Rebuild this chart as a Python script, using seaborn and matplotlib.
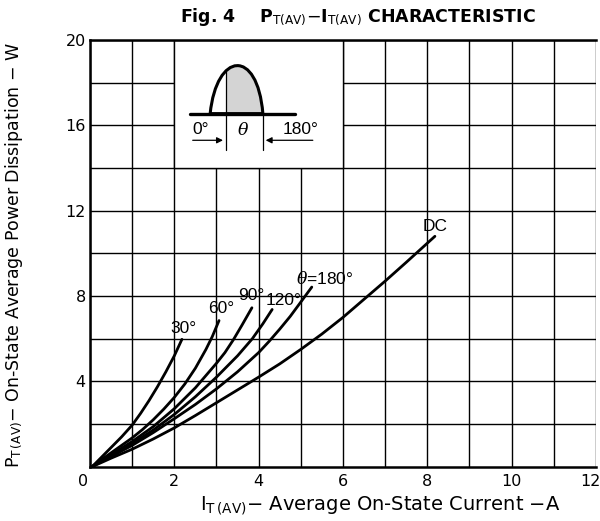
import numpy as np
import pandas as pd
import matplotlib
matplotlib.use("Agg")
import matplotlib.pyplot as plt
from matplotlib.patches import Rectangle, PathPatch
from matplotlib.path import Path
from matplotlib.transforms import ScaledTranslation
import seaborn as sns

# Curves (I_T(AV) in A, P_T(AV) in W)
curve_names = ["30°", "60°", "90°", "120°", "θ=180°", "DC"]

i_30 = [0.05, 0.25, 0.5, 0.75, 1.0, 1.2, 1.4, 1.6, 1.8, 2.0, 2.18]
p_30 = [0.0, 0.4, 0.9, 1.4, 1.95, 2.5, 3.1, 3.75, 4.45, 5.2, 5.97]

i_60 = [0.05, 0.25, 0.5, 0.75, 1.0, 1.25, 1.5, 1.75, 2.0, 2.25, 2.5, 2.75, 2.9, 3.06]
p_60 = [0.0, 0.3, 0.65, 1.0, 1.35, 1.75, 2.2, 2.7, 3.25, 3.88, 4.62, 5.5, 6.1, 6.85]

i_90 = [0.05, 0.25, 0.5, 0.75, 1.0, 1.5, 2.0, 2.5, 3.0, 3.2, 3.4, 3.6, 3.84]
p_90 = [0.0, 0.27, 0.57, 0.87, 1.18, 1.88, 2.72, 3.7, 4.85, 5.35, 5.95, 6.62, 7.45]

i_120 = [0.05, 0.25, 0.5, 1.0, 1.5, 2.0, 2.5, 3.0, 3.5, 3.85, 4.1, 4.32]
p_120 = [0.0, 0.25, 0.52, 1.08, 1.72, 2.45, 3.28, 4.2, 5.2, 6.0, 6.7, 7.37]

i_180 = [0.05, 0.25, 0.5, 1.0, 1.5, 2.0, 2.5, 3.0, 3.5, 4.0, 4.25, 4.5, 4.75, 5.0, 5.26]
p_180 = [0.0, 0.23, 0.48, 1.0, 1.6, 2.25, 2.92, 3.65, 4.45, 5.35, 5.88, 6.45, 7.05, 7.72, 8.42]

i_dc = [0.05, 0.5, 1.0, 1.5, 2.0, 2.5, 3.0, 3.5, 4.0, 4.5, 5.0, 5.5, 6.0, 6.5, 7.0, 7.5, 8.18]
p_dc = [0.0, 0.4, 0.82, 1.3, 1.82, 2.4, 3.0, 3.6, 4.2, 4.82, 5.5, 6.22, 7.0, 7.85, 8.7, 9.58, 10.8]

# label anchor for each curve (centre of the text)
label_x = [2.21, 3.12, 3.83, 4.58, 5.57, 8.18]
label_y = [6.48, 7.42, 8.04, 7.78, 8.82, 11.24]

xticks = [0, 2, 4, 6, 8, 10, 12]
yticks = [4, 8, 12, 16, 20]

frames = []
for name, xs, ys in zip(curve_names,
                        [i_30, i_60, i_90, i_120, i_180, i_dc],
                        [p_30, p_60, p_90, p_120, p_180, p_dc]):
    frames.append(pd.DataFrame({"I": xs, "P": ys, "curve": name}))
df = pd.concat(frames, ignore_index=True)

sns.set_theme(style="white")
plt.rcParams["font.family"] = ["DejaVu Sans"]
plt.rcParams["text.color"] = "black"
plt.rcParams["axes.labelcolor"] = "black"
plt.rcParams["mathtext.fontset"] = "custom"
plt.rcParams["mathtext.rm"] = "DejaVu Sans"
plt.rcParams["mathtext.it"] = "DejaVu Serif:italic"
plt.rcParams["mathtext.bf"] = "DejaVu Sans:bold"

fig = plt.figure(figsize=(6.0, 5.21), dpi=100)
ax = fig.add_axes([0.15, 0.1042, 0.8433, 0.819])

sns.lineplot(data=df, x="I", y="P", hue="curve", palette=["black"] * 6,
             sort=False, estimator=None, legend=False, linewidth=2.0, ax=ax)

lab_font = ["Liberation Sans", "DejaVu Sans"]
for name, lx, ly in zip(curve_names, label_x, label_y):
    txt = name.replace("θ", r"$\theta$")
    ax.text(lx, ly, txt, ha="center", va="center", fontsize=12.5,
            color="black", family=lab_font)

ax.set_xlim(0, 12)
ax.set_ylim(0, 20)
ax.set_xticks(xticks)
ax.set_xticks(range(1, 12, 2), minor=True)
ax.set_yticks(yticks)
ax.set_yticks([2, 6, 10, 14, 18], minor=True)
ax.tick_params(axis="both", which="both", length=0, labelsize=11.5, colors="black")
ax.tick_params(axis="x", pad=5)
ax.tick_params(axis="y", pad=3)
ax.grid(True, which="both", color="black", linewidth=1.0)
ax.set_axisbelow(True)

# the shared "0" sits a bit left of the corner, the "12" runs into the page edge
xlabs = ax.get_xticklabels()
xlabs[0].set_transform(xlabs[0].get_transform() + ScaledTranslation(-5 / 72, 0, fig.dpi_scale_trans))
xlabs[-1].set_horizontalalignment("right")
xlabs[-1].set_transform(xlabs[-1].get_transform() + ScaledTranslation(3 / 72, 0, fig.dpi_scale_trans))

for side in ["left", "bottom", "top"]:
    ax.spines[side].set_color("black")
    ax.spines[side].set_linewidth(1.8)
ax.spines["right"].set_visible(False)

# inset with the conduction-angle sketch
ax.add_patch(Rectangle((2, 14), 4, 6, facecolor="white", edgecolor="black",
                       linewidth=1.0, zorder=1.5))
base_y = 16.55
ax.plot([2.37, 4.86], [base_y, base_y], color="black", lw=2.4, zorder=3)
hump = Path([(2.85, base_y), (3.0, 19.45), (3.97, 19.65), (4.10, base_y), (2.85, base_y)],
            [Path.MOVETO, Path.CURVE4, Path.CURVE4, Path.CURVE4, Path.CLOSEPOLY])
hump_patch = PathPatch(hump, facecolor="none", edgecolor="black", lw=2.2, zorder=3)
ax.add_patch(hump_patch)
shade = Rectangle((3.22, base_y), 0.88, 3.0, facecolor="#d4d4d4", edgecolor="none", zorder=2)
ax.add_patch(shade)
shade.set_clip_path(hump_patch)
ax.plot([3.22, 3.22], [18.55, 14.83], color="black", lw=0.9, zorder=3)
ax.plot([4.10, 4.10], [base_y, 14.83], color="black", lw=0.9, zorder=3)
ax.annotate("", xy=(3.22, 15.3), xytext=(2.37, 15.3),
            arrowprops=dict(arrowstyle="-|>", color="black", lw=0.9, mutation_scale=9))
ax.annotate("", xy=(4.10, 15.3), xytext=(5.35, 15.3),
            arrowprops=dict(arrowstyle="-|>", color="black", lw=0.9, mutation_scale=9))
ax.text(2.62, 15.8, "0°", ha="center", va="center", fontsize=12.5, family=lab_font)
ax.text(3.62, 15.8, r"$\theta$", ha="center", va="center", fontsize=12.5)
ax.text(5.0, 15.8, "180°", ha="center", va="center", fontsize=12.5, family=lab_font)

ax.set_xlabel(r"I$_{\rm T\,(AV)}$$-$ Average On-State Current $-$A", fontsize=14)
ax.xaxis.set_label_coords(0.573, -0.065)
ax.set_ylabel(r"P$_{\rm T\,(AV)}$$-$ On-State Average Power Dissipation $-$ W", fontsize=12.5)
ax.yaxis.set_label_coords(-0.128, 0.495)

fig.text(0.597, 0.968, r"Fig. 4    P$_{\rm T(AV)}$$-$I$_{\rm T(AV)}$ CHARACTERISTIC",
         ha="center", va="center", fontsize=12.5, fontweight="bold")

fig.savefig("out.png", dpi=100, facecolor="white")
